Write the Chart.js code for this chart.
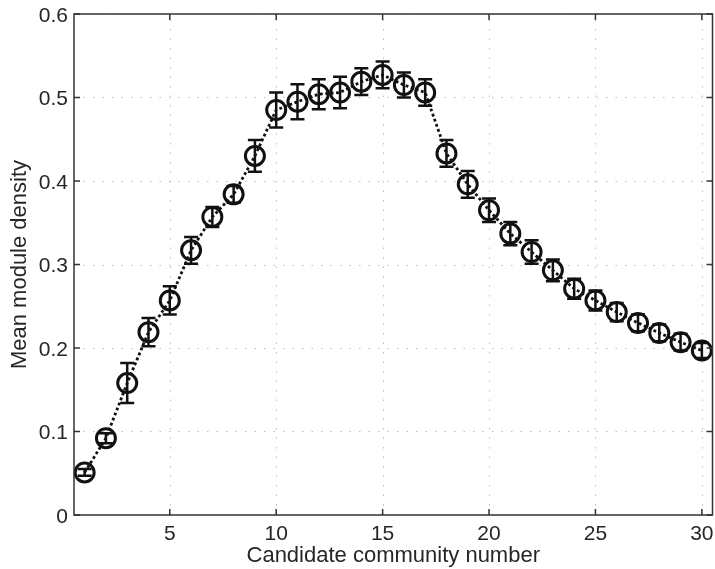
<!DOCTYPE html>
<html>
<head>
<meta charset="utf-8">
<script src="https://cdn.jsdelivr.net/npm/chart.js@4/dist/chart.umd.min.js"></script>
<style>
  body { margin: 0; background: #fff; }
  canvas { display: block; }
</style>
</head>
<body>
<canvas id="myChart" width="715" height="569"></canvas>
<script>
'use strict'

// data
const communityNumber = [1, 2, 3, 4, 5, 6, 7, 8, 9, 10, 11, 12, 13, 14, 15,
  16, 17, 18, 19, 20, 21, 22, 23, 24, 25, 26, 27, 28, 29, 30];
const meanDensity = [0.051, 0.092, 0.158, 0.219, 0.257, 0.317, 0.357, 0.384, 0.430, 0.485,
  0.495, 0.504, 0.506, 0.519, 0.527, 0.515, 0.506, 0.433, 0.396, 0.365,
  0.337, 0.315, 0.293, 0.271, 0.257, 0.243, 0.230, 0.218, 0.207, 0.197];
const densityError = [0.004, 0.006, 0.024, 0.017, 0.017, 0.016, 0.012, 0.010, 0.019, 0.021,
  0.021, 0.018, 0.019, 0.016, 0.016, 0.015, 0.016, 0.016, 0.016, 0.014,
  0.014, 0.014, 0.013, 0.012, 0.012, 0.011, 0.010, 0.010, 0.010, 0.009];
const xTicks = [5, 10, 15, 20, 25, 30];
const yTicks = [0, 0.1, 0.2, 0.3, 0.4, 0.5, 0.6];
const yTickLabels = ['0', '0.1', '0.2', '0.3', '0.4', '0.5', '0.6'];

const textColor = '#262626';
const fontFamily = '"Liberation Sans", Arial, Helvetica, sans-serif';

const ctx = document.getElementById('myChart').getContext('2d');

// dotted grid, drawn under the data
const gridPlugin = {
  id: 'dottedGrid',
  beforeDatasetsDraw(chart) {
    const c = chart.ctx;
    const area = chart.chartArea;
    const xs = chart.scales.x;
    const ys = chart.scales.y;
    c.save();
    c.strokeStyle = '#bdbdbd';
    c.lineWidth = 1;
    c.setLineDash([1.5, 8]);
    xTicks.forEach(function (v) {
      const px = Math.round(xs.getPixelForValue(v)) + 0.5;
      c.beginPath();
      c.moveTo(px, area.bottom);
      c.lineTo(px, area.top);
      c.stroke();
    });
    yTicks.forEach(function (v) {
      const py = Math.round(ys.getPixelForValue(v)) + 0.5;
      c.beginPath();
      c.moveTo(area.left, py);
      c.lineTo(area.right, py);
      c.stroke();
    });
    c.restore();
  }
};

// error bars with caps
const errorBarPlugin = {
  id: 'errorBars',
  afterDatasetsDraw(chart) {
    const c = chart.ctx;
    const xs = chart.scales.x;
    const ys = chart.scales.y;
    c.save();
    c.strokeStyle = '#111';
    c.lineWidth = 2.5;
    for (let i = 0; i < communityNumber.length; i++) {
      const px = xs.getPixelForValue(communityNumber[i]);
      const top = ys.getPixelForValue(meanDensity[i] + densityError[i]);
      const bot = ys.getPixelForValue(meanDensity[i] - densityError[i]);
      c.beginPath();
      c.moveTo(px, top);
      c.lineTo(px, bot);
      c.moveTo(px - 7, top);
      c.lineTo(px + 7, top);
      c.moveTo(px - 7, bot);
      c.lineTo(px + 7, bot);
      c.stroke();
    }
    c.restore();
  }
};

// box around the axes with inward ticks and tick labels (matlab style)
const framePlugin = {
  id: 'frame',
  afterDraw(chart) {
    const c = chart.ctx;
    const a = chart.chartArea;
    const xs = chart.scales.x;
    const ys = chart.scales.y;
    const len = 6;
    c.save();
    c.strokeStyle = '#333';
    c.lineWidth = 1.5;
    c.strokeRect(a.left, a.top, a.right - a.left, a.bottom - a.top);
    c.beginPath();
    xTicks.forEach(function (v) {
      const px = xs.getPixelForValue(v);
      c.moveTo(px, a.bottom);
      c.lineTo(px, a.bottom - len);
      c.moveTo(px, a.top);
      c.lineTo(px, a.top + len);
    });
    yTicks.forEach(function (v) {
      const py = ys.getPixelForValue(v);
      c.moveTo(a.left, py);
      c.lineTo(a.left + len, py);
      c.moveTo(a.right, py);
      c.lineTo(a.right - len, py);
    });
    c.stroke();

    // tick labels
    c.fillStyle = textColor;
    c.font = '21px ' + fontFamily;
    c.textBaseline = 'alphabetic';
    c.textAlign = 'center';
    xTicks.forEach(function (v) {
      c.fillText(String(v), xs.getPixelForValue(v), a.bottom + 25);
    });
    c.textAlign = 'right';
    yTicks.forEach(function (v, i) {
      c.fillText(yTickLabels[i], a.left - 6, ys.getPixelForValue(v) + 7.5);
    });
    c.restore();
  }
};

const myChart = new Chart(ctx, {
  type: 'line',
  data: {
    datasets: [{
      label: 'Mean module density',
      data: communityNumber.map(function (n, i) { return { x: n, y: meanDensity[i] }; }),
      borderColor: '#111',
      borderWidth: 2.8,
      borderDash: [2.8, 2.6],
      pointStyle: 'circle',
      pointRadius: 9.5,
      pointBorderWidth: 3,
      pointBorderColor: '#111',
      pointBackgroundColor: 'rgba(0,0,0,0)',
      tension: 0,
      fill: false,
      clip: false
    }]
  },
  options: {
    responsive: false,
    animation: false,
    layout: { autoPadding: false, padding: { left: 0, right: 2.5, top: 14, bottom: 0 } },
    plugins: {
      legend: { display: false },
      tooltip: { enabled: false }
    },
    scales: {
      x: {
        type: 'linear',
        min: 0.5,
        max: 30.5,
        grid: { display: false },
        border: { display: false },
        ticks: { display: false },
        afterFit: function (scale) {
          scale.height = 54;
        },
        title: {
          display: true,
          text: 'Candidate community number',
          color: textColor,
          padding: { top: 0, bottom: 0 },
          font: { family: fontFamily, size: 22 }
        }
      },
      y: {
        min: 0,
        max: 0.6,
        grid: { display: false },
        border: { display: false },
        ticks: { display: false },
        afterFit: function (scale) {
          scale.width = 74;
        },
        title: {
          display: true,
          text: 'Mean module density',
          color: textColor,
          padding: { top: 7, bottom: 0 },
          font: { family: fontFamily, size: 22 }
        }
      }
    }
  },
  plugins: [gridPlugin, errorBarPlugin, framePlugin]
});
</script>
</body>
</html>
